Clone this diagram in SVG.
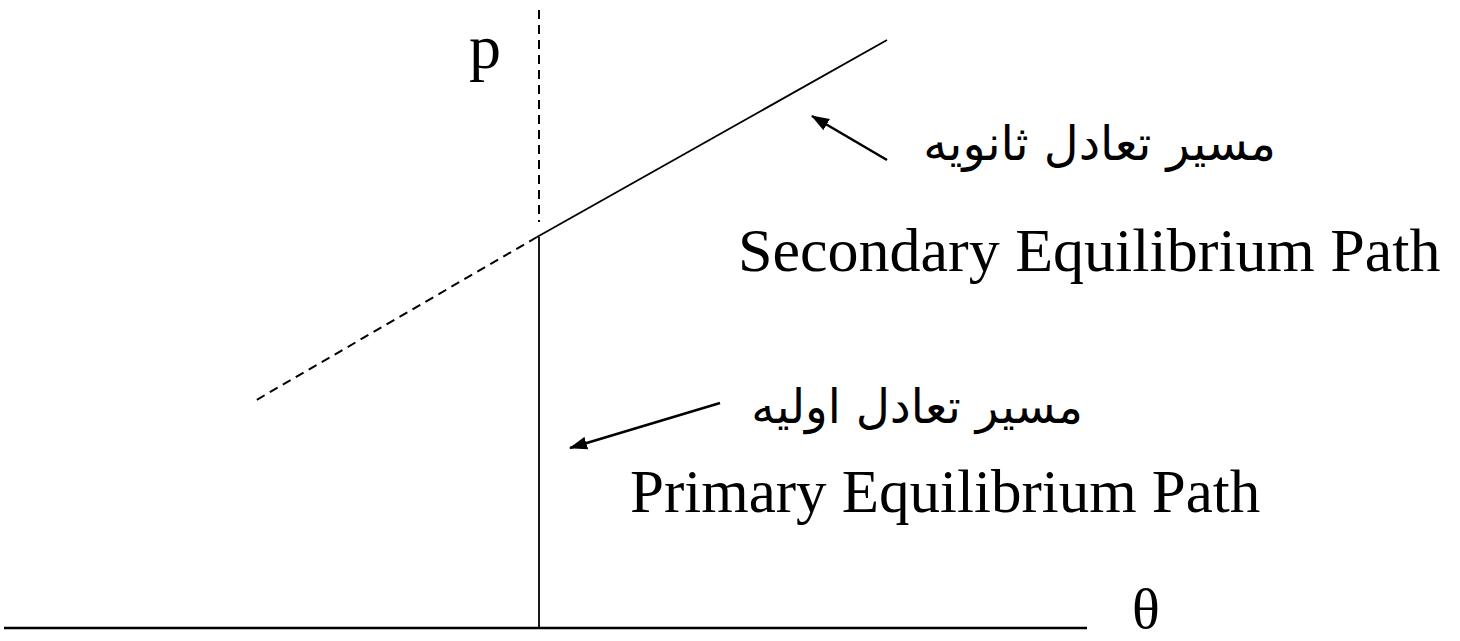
<svg xmlns="http://www.w3.org/2000/svg" width="1460" height="641" viewBox="0 0 1460 641">
<style>
.ln{stroke:#000;stroke-width:1.8;fill:none}
.ax{stroke:#000;stroke-width:2.6;fill:none}
.ar{stroke:#000;stroke-width:2.6;fill:none}
.ds{stroke:#000;stroke-width:2;fill:none;stroke-dasharray:9,6}
.en{font-family:"Liberation Serif","Times New Roman",serif;fill:#000}
.fa{font-family:"DejaVu Sans","Noto Sans",sans-serif;fill:#000}
</style>
<defs>
<marker id="ah" markerWidth="18" markerHeight="13" refX="17" refY="6.5" orient="auto" markerUnits="userSpaceOnUse" viewBox="0 0 18 13">
<path d="M0,0 L18,6.5 L0,13 Z" fill="#000"/>
</marker>
</defs>
<g id="connectors">
<line class="ax" x1="4" y1="628" x2="1087" y2="628"/>
<line class="ln" x1="539" y1="237" x2="539" y2="628"/>
<line class="ds" x1="539" y1="10" x2="539" y2="222"/>
<line class="ln" x1="537" y1="237" x2="887" y2="40"/>
<line class="ds" x1="537" y1="237" x2="253" y2="402"/>
<line class="ar" x1="887" y1="160" x2="812" y2="116" marker-end="url(#ah)"/>
<line class="ar" x1="720" y1="403" x2="570" y2="448" marker-end="url(#ah)"/>
</g>
<g id="label-p"><text class="en" x="469" y="68" font-size="64">p</text></g>
<g id="label-theta"><text class="en" x="1132" y="628" font-size="58">θ</text></g>
<g id="secondary-fa"><text class="fa" x="1276" y="160" font-size="48" text-anchor="end">مسیر تعادل ثانویه</text></g>
<g id="secondary-en"><text class="en" x="738" y="271" font-size="62">Secondary Equilibrium Path</text></g>
<g id="primary-fa"><text class="fa" x="1083" y="423" font-size="47" text-anchor="end">مسیر تعادل اولیه</text></g>
<g id="primary-en"><text class="en" x="630" y="512" font-size="61">Primary Equilibrium Path</text></g>
</svg>
